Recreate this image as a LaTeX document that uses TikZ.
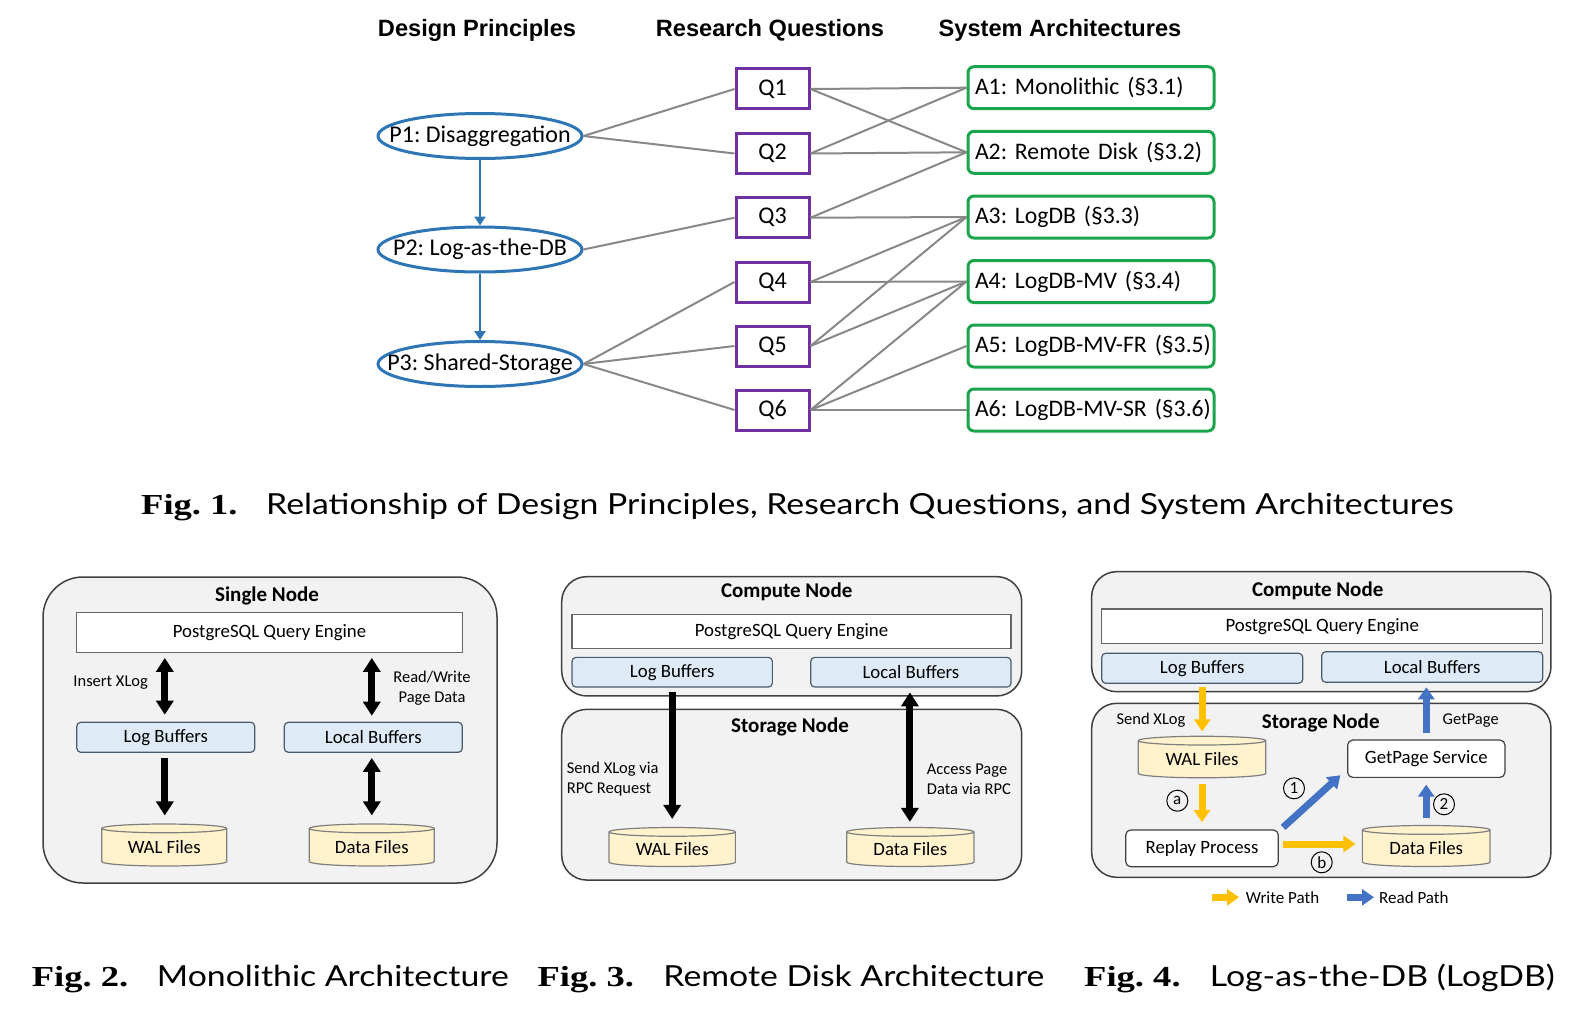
\documentclass[tikz,border=0pt]{standalone}
\usepackage{fontspec}
\setmainfont{Carlito}
\newfontfamily\headfont{Liberation Sans}
\newfontfamily\capsans{Lato}
\newfontfamily\capserif{Liberation Serif}
\usetikzlibrary{shapes.geometric,arrows.meta}
\frenchspacing
\definecolor{pblue}{HTML}{2E75B6}
\definecolor{qpurple}{HTML}{7030A0}
\definecolor{agreen}{RGB}{28,164,76}
\definecolor{edgegray}{HTML}{888888}
\definecolor{boxfill}{HTML}{F2F2F2}
\definecolor{boxborder}{HTML}{404040}
\definecolor{buffill}{HTML}{DEEBF7}
\definecolor{bufborder}{HTML}{4A5A70}
\definecolor{cylfill}{HTML}{FFF2CC}
\definecolor{cylborder}{HTML}{7F7F7F}
\definecolor{wyellow}{HTML}{FFC000}
\definecolor{rblue}{HTML}{4472C4}
\newcommand{\figlabtext}[1]{\scalebox{1.26}[1]{#1}}
\newcommand{\figcaptext}[1]{\scalebox{1.165}[1]{#1}}
\tikzset{
  pnode/.style={ellipse, draw=pblue, line width=3pt, minimum width=204pt, minimum height=45pt, inner sep=0pt, font=\fontsize{24}{28}\selectfont},
  qnode/.style={rectangle, draw=qpurple, line width=3pt, minimum width=73pt, minimum height=40pt, inner sep=0pt, font=\fontsize{24}{28}\selectfont},
  anode/.style={rectangle, rounded corners=6pt, draw=agreen, line width=3pt, minimum width=246pt, minimum height=42pt, text width=232pt, inner xsep=7pt, inner ysep=0pt, align=left, font=\fontsize{23.7}{28}\selectfont},
  head/.style={font=\headfont\bfseries\fontsize{23.6}{28}\selectfont, inner sep=0pt},
  edge/.style={draw=edgegray, line width=2pt},
  parrow/.style={draw=pblue, line width=2.5pt, -{Triangle[width=11pt,length=9pt]}},
  container/.style={rectangle, draw=boxborder, fill=boxfill, line width=1.5pt, inner sep=0pt},
  ctitle/.style={font=\bfseries\fontsize{21}{25}\selectfont, inner sep=0pt},
  engine/.style={rectangle, draw=gray!80!black, fill=white, line width=1.2pt, inner sep=0pt, font=\fontsize{18.8}{22}\selectfont},
  buf/.style={rectangle, rounded corners=4pt, draw=bufborder, fill=buffill, line width=1.2pt, inner sep=0pt, font=\fontsize{18.8}{22}\selectfont},
  wbox/.style={rectangle, rounded corners=5pt, draw=boxborder, fill=white, line width=1.2pt, inner sep=0pt, font=\fontsize{18.8}{22}\selectfont},
  cyl/.style={cylinder, shape border rotate=90, shape aspect=0.12, draw=cylborder, fill=cylfill, line width=1.2pt, inner sep=0pt, font=\fontsize{18.8}{22}\selectfont},
  lbl/.style={font=\fontsize{16.5}{20}\selectfont, inner sep=0pt},
  bigarrow/.style={line width=7pt, -{Triangle[width=17pt,length=14pt]}},
  bigdarrow/.style={line width=7pt, {Triangle[width=17pt,length=14pt]}-{Triangle[width=17pt,length=14pt]}},
  yarrow/.style={draw=wyellow, line width=7pt, -{Triangle[width=16pt,length=12pt]}},
  barrow/.style={draw=rblue, line width=7pt, -{Triangle[width=16pt,length=12pt]}},
  circ/.style={circle, draw, line width=1pt, minimum size=21pt, inner sep=0pt, font=\fontsize{17}{20}\selectfont},
  figlab/.style={font=\capserif\bfseries\fontsize{29}{34}\selectfont, inner sep=0pt, anchor=base west},
  figtxt/.style={font=\capsans\fontsize{29}{34}\selectfont, inner sep=0pt, anchor=base west},
}
\begin{document}
\begin{tikzpicture}[x=1pt,y=-1pt]
\useasboundingbox[fill=white] (0,0) rectangle (1578,1014);

% ---------- Fig. 1 ----------
\node[head] (h1) at (477,30) {Design Principles};
\node[head] (h2) at (770,30) {Research Questions};
\node[head] (h3) at (1060,30) {System Architectures};

\node[pnode] (p1) at (480,136) {\makebox[0pt]{P1: Disaggregation}};
\node[pnode] (p2) at (480,249.5) {\makebox[0pt]{P2: Log-as-the-DB}};
\node[pnode] (p3) at (480,364) {\makebox[0pt]{P3: Shared-Storage}};

\node[qnode] (q1) at (772.5,89) {Q1};
\node[qnode] (q2) at (772.5,153.5) {Q2};
\node[qnode] (q3) at (772.5,217.7) {Q3};
\node[qnode] (q4) at (772.5,282) {Q4};
\node[qnode] (q5) at (772.5,346) {Q5};
\node[qnode] (q6) at (772.5,410) {Q6};

\node[anode] (a1) at (1091,87.7) {\mbox{A1: Monolithic (§3.1)}};
\node[anode] (a2) at (1091,152.3) {\mbox{A2: Remote Disk (§3.2)}};
\node[anode] (a3) at (1091,217) {\mbox{A3: LogDB (§3.3)}};
\node[anode] (a4) at (1091,281.5) {\mbox{A4: LogDB-MV (§3.4)}};
\node[anode] (a5) at (1091,346) {\mbox{A5: LogDB-MV-FR (§3.5)}};
\node[anode] (a6) at (1091,410) {\mbox{A6: LogDB-MV-SR (§3.6)}};

\draw[parrow] (p1.south) -- (p2.north);
\draw[parrow] (p2.south) -- (p3.north);

\foreach \a/\b in {p1/q1,p1/q2,p2/q3,p3/q4,p3/q5,p3/q6}
  \draw[edge] (\a.east) -- (\b.west);
\foreach \a/\b in {q1/a1,q1/a2,q2/a1,q2/a2,q3/a2,q3/a3,q4/a3,q4/a4,q5/a3,q5/a4,q6/a4,q6/a5,q6/a6}
  \draw[edge] (\a.east) -- (\b.west);

\node[figlab] (f1l) at (141,514) {\figlabtext{Fig. 1.}};
\node[figtxt] (f1t) at (266,514) {\figcaptext{Relationship of Design Principles, Research Questions, and System Architectures}};

% ---------- Fig. 2 ----------
\node[container, rounded corners=40pt, minimum width=454pt, minimum height=306pt] (single) at (270,730) {};
\node[ctitle] (t2) at (267,596) {Single Node};
\node[engine, minimum width=385.6pt, minimum height=40pt] (pg2) at (269.5,632.3) {PostgreSQL Query Engine};
\node[buf, minimum width=178pt, minimum height=30pt] (lb2) at (165.8,737.3) {Log Buffers};
\node[buf, minimum width=178pt, minimum height=30pt] (lcb2) at (373.3,737.3) {Local Buffers};
\node[cyl, minimum width=125pt, minimum height=42pt] (wal2) at (164.2,847.5) {WAL Files};
\node[cyl, minimum width=125pt, minimum height=42pt] (df2) at (371.8,847.5) {Data Files};
\draw[bigdarrow, shorten <=5pt, shorten >=7pt] ([xshift=-1pt]lb2.north |- pg2.south) -- ([xshift=-1pt]lb2.north);
\draw[bigarrow, shorten <=5pt, shorten >=8pt] ([xshift=-1pt]lb2.south) -- ([xshift=-1pt]lb2.south |- wal2.north);
\draw[bigdarrow, shorten <=5pt, shorten >=6pt] ([xshift=-1.5pt]lcb2.north |- pg2.south) -- ([xshift=-1.5pt]lcb2.north);
\draw[bigdarrow, shorten <=5pt, shorten >=8pt] ([xshift=-1.5pt]lcb2.south) -- ([xshift=-1.5pt]lcb2.south |- df2.north);
\node[lbl] (l2a) at (110.7,683) {Insert XLog};
\node[lbl, align=center] (l2b) at (432,687.7) {Read/Write\\Page Data};

\node[figlab] (f2l) at (31.7,986) {\figlabtext{Fig. 2.}};
\node[figtxt] (f2t) at (156.7,986) {\figcaptext{Monolithic Architecture}};

% ---------- Fig. 3 ----------
\node[container, rounded corners=25pt, minimum width=460pt, minimum height=119.3pt] (comp3) at (791.7,636.3) {};
\node[ctitle] (t3a) at (786.7,592) {Compute Node};
\node[engine, minimum width=439pt, minimum height=34pt] (pg3) at (791.5,631.3) {PostgreSQL Query Engine};
\node[buf, minimum width=200.3pt, minimum height=29.7pt] (lb3) at (672.2,672.2) {Log Buffers};
\node[buf, minimum width=200.3pt, minimum height=29.7pt] (lcb3) at (910.9,672.2) {Local Buffers};
\node[container, rounded corners=25pt, minimum width=460pt, minimum height=170.7pt] (stor3) at (791.7,794.7) {};
\node[ctitle] (t3b) at (790,727) {Storage Node};
\node[cyl, minimum width=126.3pt, minimum height=39pt] (wal3) at (672.2,849.5) {WAL Files};
\node[cyl, minimum width=127.3pt, minimum height=39pt] (df3) at (910.3,849.5) {Data Files};
\draw[bigarrow, shorten <=4pt, shorten >=8pt] (lb3.south) -- (lb3.south |- wal3.north);
\draw[bigdarrow, shorten <=4.7pt, shorten >=5pt] ([xshift=-1pt]lcb3.south) -- ([xshift=-1pt]lcb3.south |- df3.north);
\node[lbl, align=left, anchor=west] (l3a) at (566.7,779.3) {Send XLog via\\RPC Request};
\node[lbl, align=left, anchor=west] (l3b) at (926.7,779.3) {Access Page\\Data via RPC};

\node[figlab] (f3l) at (537.4,986) {\figlabtext{Fig. 3.}};
\node[figtxt] (f3t) at (663.2,986) {\figcaptext{Remote Disk Architecture}};

% ---------- Fig. 4 ----------
\node[container, rounded corners=25pt, minimum width=459.3pt, minimum height=120pt] (comp4) at (1321.3,631.7) {};
\node[ctitle] (t4a) at (1317.7,590.5) {Compute Node};
\node[engine, minimum width=441pt, minimum height=34.3pt] (pg4) at (1322.2,626.2) {PostgreSQL Query Engine};
\node[buf, minimum width=201pt, minimum height=30pt] (lb4) at (1202.2,668.3) {Log Buffers};
\node[buf, minimum width=221pt, minimum height=30.6pt] (lcb4) at (1432.2,667) {Local Buffers};
\node[container, rounded corners=25pt, minimum width=459.3pt, minimum height=174pt] (stor4) at (1321.3,790.3) {};
\node[ctitle] (t4b) at (1320.7,722.5) {Storage Node};
\node[lbl] (l4a) at (1151,720.3) {Send XLog};
\node[lbl] (l4b) at (1470.7,720.3) {GetPage};
\node[cyl, minimum width=127.4pt, minimum height=41.5pt] (wal4) at (1202,759.5) {WAL Files};
\node[wbox, minimum width=157.3pt, minimum height=37.3pt] (gps) at (1426.3,758.7) {GetPage Service};
\node[wbox, minimum width=152.6pt, minimum height=36.7pt] (rp) at (1202,848.3) {Replay Process};
\node[cyl, minimum width=127.7pt, minimum height=41pt] (df4) at (1426.2,848.5) {Data Files};
\draw[yarrow, shorten <=2.7pt, shorten >=4.3pt] (lb4.south) -- (lb4.south |- wal4.north);
\draw[yarrow, shorten <=6pt, shorten >=7.3pt] (wal4.south) -- (wal4.south |- rp.north);
\draw[yarrow, shorten <=4pt, shorten >=6.3pt] ([yshift=4.3pt]rp.east) -- ([yshift=4.3pt]rp.east -| df4.west);
\draw[barrow, shorten <=3pt, shorten >=5pt] ([xshift=2pt]rp.north east) -- ([xshift=-3pt,yshift=6pt]gps.south west);
\draw[barrow, shorten <=7pt, shorten >=6.7pt] (df4.north) -- (df4.north |- gps.south);
\draw[barrow, shorten <=6pt, shorten >=4.4pt] (gps.north) -- (gps.north |- lcb4.south);
\node[circ] (ca) at (1177.3,800.7) {a};
\node[circ] (c1) at (1294,788.3) {1};
\node[circ] (c2) at (1444,804.3) {2};
\node[circ] (cb) at (1321.7,862.3) {b};

\coordinate (lg1s) at (1212,897.3);
\coordinate (lg1e) at (1239,897.3);
\coordinate (lg2s) at (1347,897.3);
\coordinate (lg2e) at (1374,897.3);
\draw[yarrow] (lg1s) -- (lg1e);
\draw[barrow] (lg2s) -- (lg2e);
\node[lbl, anchor=west, font=\fontsize{17}{20}\selectfont] (lgw) at (1245.7,897.3) {Write Path};
\node[lbl, anchor=west, font=\fontsize{17}{20}\selectfont] (lgr) at (1379,897.3) {Read Path};

\node[figlab] (f4l) at (1084,986) {\figlabtext{Fig. 4.}};
\node[figtxt] (f4t) at (1209.7,986) {\figcaptext{Log-as-the-DB (LogDB)}};
\end{tikzpicture}
\end{document}
